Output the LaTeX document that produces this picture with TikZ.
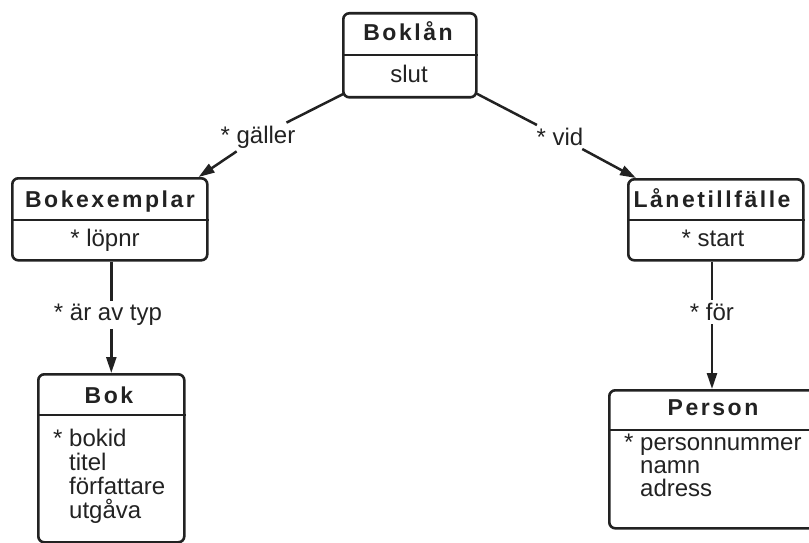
\documentclass[tikz,border=0pt]{standalone}
\usepackage{fontspec}
\setmainfont{Liberation Sans}
\newfontfamily\titlefont[LetterSpace=11]{Liberation Sans}
\usetikzlibrary{arrows.meta}
\definecolor{ink}{HTML}{222222}
\begin{document}
\begin{tikzpicture}[x=1pt,y=-1pt,
  box/.style={draw=ink, line width=2.6pt, rounded corners=6pt, inner sep=0pt, anchor=north west},
  sep/.style={draw=ink, line width=2.6pt},
  ttl/.style={font=\titlefont\bfseries\fontsize{23}{23}\selectfont, text=ink, inner sep=0pt, anchor=base},
  att/.style={font=\fontsize{24}{24}\selectfont, text=ink, inner sep=0pt, anchor=base west},
  attc/.style={font=\fontsize{24}{24}\selectfont, text=ink, inner sep=0pt, anchor=base},
  lab/.style={font=\fontsize{24}{24}\selectfont, text=ink, inner sep=3pt},
  conn/.style={draw=ink, line width=2.5pt},
  arr/.style={conn, -{Triangle[length=16pt,width=10pt]}}
]
\useasboundingbox (0,0) rectangle (809,543);
\clip (0,0) rectangle (809,543);

% Boklån
\node[box, minimum width=133pt, minimum height=84pt] (boklan) at (342,12) {};
\draw[sep] (boklan.west |- 0,55) -- (boklan.east |- 0,55);
\node[ttl] (boklanT) at (408,41) {Boklån};
\node[attc] (boklanA) at (409,82) {slut};

% Bokexemplar
\node[box, minimum width=195pt, minimum height=82pt] (bokex) at (11,177) {};
\draw[sep] (bokex.west |- 0,220) -- (bokex.east |- 0,220);
\node[ttl] (bokexT) at (110,207) {Bokexemplar};
\node[attc] (bokexA) at (105,246) {* löpnr};

% Lånetillfälle
\node[box, minimum width=175pt, minimum height=81pt] (lanet) at (627,178) {};
\draw[sep] (lanet.west |- 0,220) -- (lanet.east |- 0,220);
\node[ttl] (lanetT) at (712,207) {Lånetillfälle};
\node[attc] (lanetA) at (713,246) {* start};

% Bok
\node[box, minimum width=146pt, minimum height=168pt] (bok) at (37,373) {};
\draw[sep] (bok.west |- 0,415) -- (bok.east |- 0,415);
\node[ttl] (bokT) at (109,403) {Bok};
\node[att] (bokA1) at (69,446) {\llap{* }bokid};
\node[att] (bokA2) at (69,470) {titel};
\node[att] (bokA3) at (69,494) {författare};
\node[att] (bokA4) at (69,518) {utgåva};

% Person
\node[box, minimum width=222pt, minimum height=138pt] (person) at (608,389) {};
\draw[sep] (person.west |- 0,430) -- (person.east |- 0,430);
\node[ttl] (personT) at (713,415) {Person};
\node[att] (personA1) at (640,450) {\llap{* }personnummer};
\node[att] (personA2) at (640,473) {namn};
\node[att] (personA3) at (640,496) {adress};

% connector labels
\node[lab] (lg) at (258,137) {* gäller};
\node[lab] (lv) at (560,137) {* vid};
\node[lab] (lt) at (108,315) {* är av typ};
\node[lab] (lf) at (712,312) {* för};

% connectors
\draw[conn] ([shift={(2,-5)}]boklan.south west) -- (lg);
\draw[arr] (lg) -- ([xshift=-10pt]bokex.north east);
\draw[conn] ([shift={(-1,-5)}]boklan.south east) -- (lv);
\draw[arr] (lv) -- ([xshift=9pt]lanet.north west);
\draw[conn] (bokex.south -| bok.north) -- (bok.north |- lt.north);
\draw[arr] (bok.north |- lt.south) -- (bok.north);
\draw[conn] (lanet.south -| lf.north) -- (lf.north);
\draw[arr] (lf.south) -- (person.north -| lf.south);
\end{tikzpicture}
\end{document}
